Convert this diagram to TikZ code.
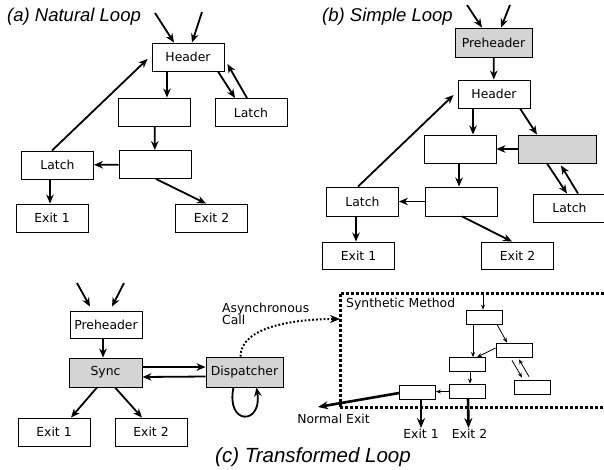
\documentclass[tikz,border=0pt]{standalone}
\usepackage{fontspec}
\setmainfont{DejaVu Sans}
\newfontfamily\ttlfont{Liberation Sans}
\usetikzlibrary{arrows.meta}

\begin{document}
\begin{tikzpicture}[
  x=1pt, y=-1pt,
  blk/.style={rectangle, draw, line width=0.9pt, minimum width=72pt,
              minimum height=28pt, inner sep=0pt,
              font=\fontsize{12.4}{14}\selectfont},
  gblk/.style={blk, fill=black!17},
  sblk/.style={rectangle, draw, line width=0.8pt, minimum width=36pt,
               minimum height=14pt, inner sep=0pt},
  lbl/.style={inner sep=0pt, font=\fontsize{12.4}{11.5}\selectfont},
  ttl/.style={anchor=west, inner sep=0pt,
              font=\ttlfont\itshape\fontsize{18.5}{20}\selectfont},
  arr/.style={-{Stealth[length=9pt,width=7.5pt]}, line width=1.8pt},
  sarr/.style={-{Stealth[length=5pt,width=4pt]}, line width=0.8pt},
  xarr/.style={-{Stealth[length=10pt,width=8pt]}, line width=2.6pt}
]
  \useasboundingbox (0,0) rectangle (604,469);

  % (a) Natural Loop
  \node[ttl] (ttlA) at (7,17) {(a) Natural Loop};
  \node[blk] (hdrA) at (188,57) {Header};
  \node[blk] (bA1) at (154.5,112) {};
  \node[blk] (ltA2) at (251,112.5) {Latch};
  \node[blk] (bA2) at (155,164.5) {};
  \node[blk] (ltA1) at (57.5,165) {Latch};
  \node[blk] (exA1) at (52,218) {Exit 1};
  \node[blk] (exA2) at (211.5,218) {Exit 2};
  \coordinate (inA1) at (155,13);
  \coordinate (inA2) at (202,12);
  \draw[arr] (inA1) -- ([xshift=-14pt]hdrA.north);
  \draw[arr] (inA2) -- ([xshift=4pt]hdrA.north);
  \draw[arr] ([xshift=-21pt]hdrA.south) -- ([xshift=12.5pt]bA1.north);
  \draw[arr] ([xshift=30pt]hdrA.south) -- ([xshift=-16pt]ltA2.north);
  \draw[arr] ([xshift=-4pt]ltA2.north) -- ([xshift=3pt,yshift=-7pt]hdrA.east);
  \draw[arr] (bA1) -- (bA2);
  \draw[arr] (bA2) -- (ltA1);
  \draw[arr] ([xshift=1pt]bA2.south) -- ([xshift=-5.5pt]exA2.north);
  \draw[arr] ([xshift=-5.5pt]ltA1.north) -- ([xshift=-4pt,yshift=-2pt]hdrA.west);
  \draw[arr] ([xshift=-7.5pt]ltA1.south) -- ([xshift=-2pt]exA1.north);

  % (b) Simple Loop
  \node[ttl] (ttlB) at (322,17) {(b) Simple Loop};
  \node[gblk, minimum width=77pt, minimum height=29pt] (preB) at (493.5,42.5) {Preheader};
  \node[blk] (hdrB) at (494,94) {Header};
  \node[blk] (bB1) at (460,149) {};
  \node[gblk, minimum width=78pt] (gB) at (557,149) {};
  \node[blk, minimum width=73pt] (ltB2) at (569.5,208) {Latch};
  \node[blk, minimum height=29pt] (bB2) at (461,201.5) {};
  \node[blk, minimum height=29pt] (ltB1) at (362.5,201.5) {Latch};
  \node[blk, minimum height=27pt] (exB1) at (358.5,255.5) {Exit 1};
  \node[blk, minimum height=27pt] (exB2) at (517.5,255.5) {Exit 2};
  \coordinate (inB1) at (467,5);
  \coordinate (inB2) at (510,5);
  \draw[arr] (inB1) -- ([xshift=-11.5pt]preB.north);
  \draw[arr] (inB2) -- ([xshift=7.5pt]preB.north);
  \draw[arr] (preB) -- (hdrB);
  \draw[arr] ([xshift=-21pt]hdrB.south) -- ([xshift=13pt]bB1.north);
  \draw[arr] ([xshift=26pt]hdrB.south) -- ([xshift=-20pt]gB.north);
  \draw[arr] (gB) -- (bB1);
  \draw[arr] ([xshift=-10pt]gB.south) -- ([xshift=-2.5pt]ltB2.north);
  \draw[arr] ([xshift=8.5pt]ltB2.north) -- ([xshift=4pt,yshift=-2pt]gB.south);
  \draw[arr] ([xshift=-1pt]bB1.south) -- ([xshift=-2pt]bB2.north);
  \draw[arr] (bB2) -- (ltB1);
  \draw[arr] ([xshift=1pt]bB2.south) -- ([xshift=-5.5pt]exB2.north);
  \draw[arr] ([xshift=-4.5pt]ltB1.north) -- ([xshift=-4pt,yshift=-1pt]hdrB.west);
  \draw[arr] ([xshift=-6.5pt]ltB1.south) -- ([xshift=-2.5pt]exB1.north);

  % (c) Transformed Loop
  \node[ttl, font=\ttlfont\itshape\fontsize{20.5}{22}\selectfont] (ttlC) at (215,457) {(c) Transformed Loop};
  \node[blk, minimum height=27pt] (preC) at (106,324.5) {Preheader};
  \node[gblk, minimum width=73pt, minimum height=29pt] (syncC) at (105.5,372.5) {Sync};
  \node[gblk, minimum width=77pt, minimum height=30pt] (dispC) at (244.5,372) {Dispatcher};
  \node[blk] (exC1) at (54,432) {Exit 1};
  \node[blk] (exC2) at (151,432) {Exit 2};
  \coordinate (inC1) at (77,283);
  \coordinate (inC2) at (124,283);
  \draw[arr] (inC1) -- ([xshift=-16pt,yshift=4pt]preC.north);
  \draw[arr] (inC2) -- ([xshift=6pt,yshift=4pt]preC.north);
  \draw[arr] ([xshift=-3pt]preC.south) -- ([xshift=-2.5pt]syncC.north);
  \draw[arr] ([yshift=5.5pt]syncC.east) -- ([yshift=5pt]dispC.west);
  \draw[arr] ([yshift=-4.5pt]dispC.west) -- ([yshift=-4.5pt]syncC.east);
  \draw[arr] ([xshift=-8.5pt]syncC.south) -- ([xshift=17pt]exC1.north);
  \draw[arr] ([xshift=9.5pt]syncC.south) -- ([xshift=-9pt]exC2.north);
  \draw[arr] ([xshift=-11pt]dispC.south) .. controls +(-8,38) and +(6,38) .. ([xshift=12pt]dispC.south);

  % Methode synthetique
  \node[draw, line width=3pt, dash pattern=on 3pt off 2pt, outer sep=0pt, inner sep=0pt,
        minimum width=290pt, minimum height=114pt, anchor=north west] (synth) at (340,293) {};
  \node[lbl, anchor=west] (synLbl) at (346,304) {Synthetic Method};
  \node[lbl, align=left, anchor=north west] (callLbl) at (222,303) {Asynchronous\\[-1.5pt]Call};
  \draw[-{Stealth[length=10pt,width=8pt]}, line width=2pt, dash pattern=on 1.8pt off 2pt]
    ([xshift=-4pt]dispC.north) .. controls +(0,-30) and +(-45,0) .. ([yshift=31pt]synth.west);

  \node[sblk] (s1) at (484,317) {};
  \node[sblk] (s2) at (514,350) {};
  \node[sblk] (s3) at (467.5,364.5) {};
  \node[sblk] (s4) at (532.5,387) {};
  \node[sblk] (s5) at (467.5,391) {};
  \node[sblk] (s6) at (417.5,392) {};
  \coordinate (inS) at (483,295);
  \draw[sarr] (inS) -- ([xshift=-1pt]s1.north);
  \draw[sarr] ([xshift=-11pt]s1.south) -- ([xshift=5.5pt]s3.north);
  \draw[sarr] ([xshift=13pt]s1.south) -- ([xshift=-7pt]s2.north);
  \draw[sarr] ([yshift=2pt]s2.west) -- ([xshift=9.5pt]s3.north);
  \draw[sarr] ([xshift=-2pt,yshift=-3pt]s2.south) -- ([xshift=-10.5pt,yshift=2pt]s4.north);
  \draw[sarr] ([xshift=-3.5pt,yshift=3pt]s4.north) -- ([xshift=5pt,yshift=-2pt]s2.south);
  \draw[sarr] ([xshift=2.5pt]s3.south) -- ([xshift=2.5pt]s5.north);
  \draw[sarr] (s5) -- (s6);

  % Sorties
  \coordinate (nExit) at (318,407);
  \node[lbl] (nLbl) at (333.5,419) {Normal Exit};
  \node[lbl, inner sep=1pt] (eLbl1) at (421,434) {Exit 1};
  \node[lbl, inner sep=1pt] (eLbl2) at (469.5,434) {Exit 2};
  \draw[xarr] ([yshift=-1pt]s6.west) -- (nExit);
  \draw[xarr] ([xshift=3.5pt]s6.south) -- (eLbl1.north);
  \draw[xarr] ([xshift=0.5pt]s5.south) -- ([xshift=-1pt]eLbl2.north);
\end{tikzpicture}
\end{document}
